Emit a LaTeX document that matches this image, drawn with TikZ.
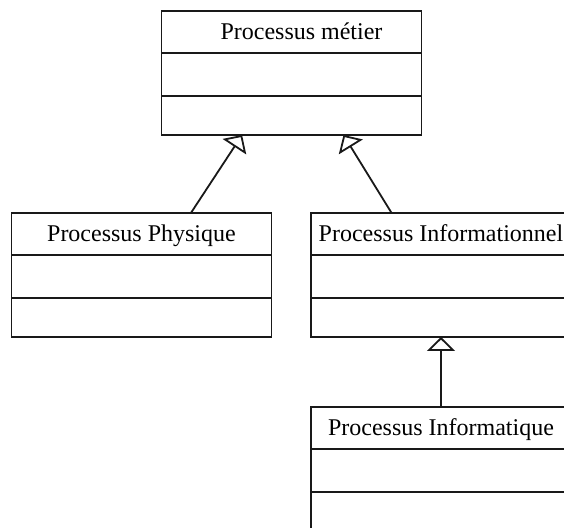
\documentclass[tikz,border=0pt]{standalone}
\usepackage{fontspec}
\setmainfont{Liberation Serif}
\usetikzlibrary{positioning,calc,arrows.meta}
\begin{document}
\begin{tikzpicture}[
    x=0.5pt, y=-0.5pt,
    cls/.style={draw=black!90, line width=0.9pt, minimum width=130pt,
                inner sep=0pt, outer sep=0pt, font=\fontsize{12}{14}\selectfont},
    hdr/.style={cls, minimum height=21pt, text height=9pt, text depth=1pt},
    attr/.style={cls, minimum height=21.5pt},
    ops/.style={cls, minimum height=19.5pt},
    inh/.style={-{Triangle[open, length=7pt, width=14pt]}, line width=0.9pt, draw=black!90}
]
\useasboundingbox (0,0) rectangle (564,528);
\clip (0,0) rectangle (564,528);

\node[hdr] (metierH) at (291.5,32) {\hspace*{10pt}Processus métier};
\node[attr, below=0pt of metierH] (metierA) {};
\node[ops,  below=0pt of metierA] (metierO) {};

\node[hdr] (physH) at (141.5,234) {Processus Physique};
\node[attr, below=0pt of physH] (physA) {};
\node[ops,  below=0pt of physA] (physO) {};

\node[hdr] (infoH) at (441,234) {Processus Informationnel};
\node[attr, below=0pt of infoH] (infoA) {};
\node[ops,  below=0pt of infoA] (infoO) {};

\node[hdr] (infqH) at (441,428) {Processus Informatique};
\node[attr, below=0pt of infqH] (infqA) {};
\node[ops,  below=0pt of infqA] (infqO) {};

\draw[inh] ($(physH.north west)!0.69!(physH.north east)$)
    -- ($(metierO.south west)!0.31!(metierO.south east)$);
\draw[inh] ($(infoH.north west)!0.31!(infoH.north east)$)
    -- ($(metierO.south west)!0.70!(metierO.south east)$);
\draw[inh] (infqH.north) -- (infoO.south);
\end{tikzpicture}
\end{document}
